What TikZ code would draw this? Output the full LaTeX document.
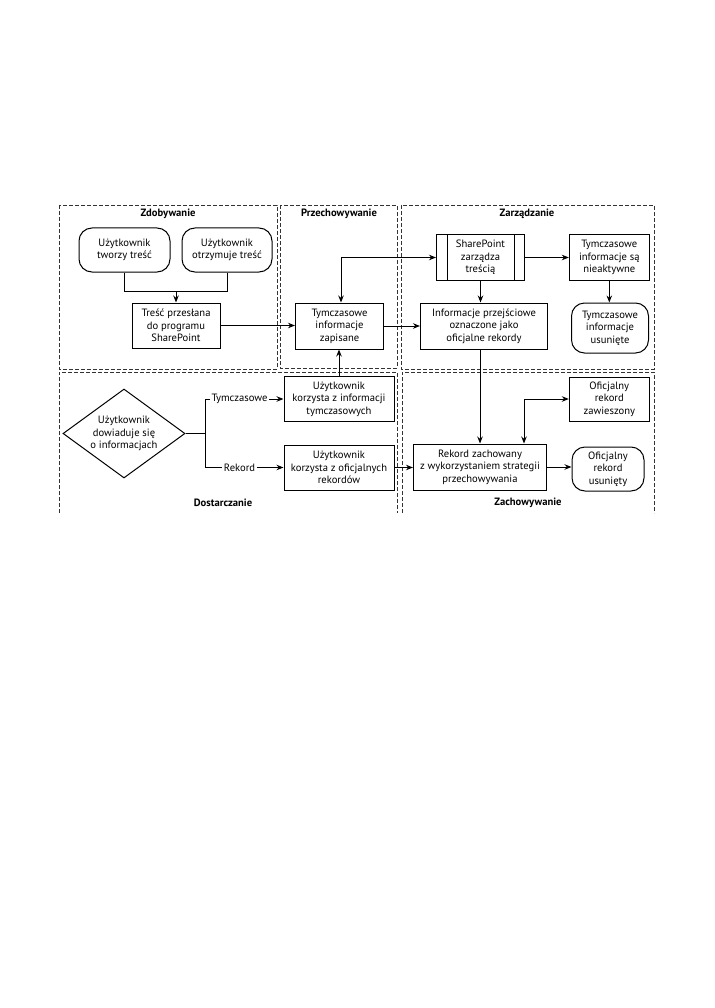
\documentclass[tikz,border=0pt]{standalone}
\usepackage{fontspec}
\setmainfont{PT Sans}
\usetikzlibrary{arrows.meta,shapes.geometric}
\begin{document}
\begin{tikzpicture}[x=1pt,y=-1pt,
  txt/.style={font=\fontsize{10.6}{12.5}\selectfont, align=center},
  box/.style={txt, draw, line width=1pt, inner sep=0pt},
  rbox/.style={box, rounded corners=13pt},
  ttl/.style={font=\fontsize{10.6}{12}\selectfont\bfseries},
  reg/.style={dash pattern=on 4pt off 2pt, line width=0.6pt, black!80},
  conn/.style={line width=1pt},
  arr/.style={conn, -{Stealth[length=7pt,width=5.5pt]}},
  arrb/.style={conn, {Stealth[length=7pt,width=5.5pt]}-{Stealth[length=7pt,width=5.5pt]}},
  lab/.style={txt, fill=white, inner sep=1.5pt}
]
\useasboundingbox (0,0) rectangle (714,1008);

% regions
\draw[reg] (59,205) rectangle (277,369);
\draw[reg] (280,205) rectangle (397,368);
\draw[reg] (401,205) rectangle (654,369);
\draw[reg] (59,513) -- (59,372) -- (397,372) -- (397,513);
\draw[reg] (402,513) -- (402,372) -- (654,372) -- (654,513);

% titles
\node[ttl] (tZd) at (168,214) {Zdobywanie};
\node[ttl] (tPr) at (339,214) {Przechowywanie};
\node[ttl] (tZa) at (527,214) {Zarządzanie};
\node[ttl] (tDo) at (223,503) {Dostarczanie};
\node[ttl] (tZc) at (528,503) {Zachowywanie};

% nodes
\node[rbox, minimum width=91pt, minimum height=44pt] (U1) at (124.5,250) {Użytkownik\\tworzy treść};
\node[rbox, minimum width=90pt, minimum height=44pt] (U2) at (227,250) {Użytkownik\\otrzymuje treść};
\node[box, minimum width=88pt, minimum height=45pt] (T1) at (176,325.5) {Treść przesłana\\do programu\\SharePoint};
\node[box, minimum width=88pt, minimum height=46pt] (TZ) at (339.5,326) {Tymczasowe\\informacje\\zapisane};
\node[box, minimum width=88pt, minimum height=45pt] (SP) at (480.5,257.5) {SharePoint\\zarządza\\treścią};
\draw[line width=1pt] ([xshift=11pt]SP.north west) -- ([xshift=11pt]SP.south west);
\draw[line width=1pt] ([xshift=-11pt]SP.north east) -- ([xshift=-11pt]SP.south east);
\node[box, minimum width=80pt, minimum height=45pt] (TN) at (609.3,257.5) {Tymczasowe\\informacje są\\nieaktywne};
\node[rbox, minimum width=77pt, minimum height=50pt] (TU) at (610,328) {Tymczasowe\\informacje\\usunięte};
\node[box, minimum width=127pt, minimum height=46pt] (IP) at (484,326) {Informacje przejściowe\\oznaczone jako\\oficjalne rekordy};
\node[box, minimum width=110pt, minimum height=45pt] (UT) at (339,399) {Użytkownik\\korzysta z informacji\\tymczasowych};
\node[box, minimum width=110pt, minimum height=45pt] (UR) at (339,467.5) {Użytkownik\\korzysta z oficjalnych\\rekordów};
\node[box, minimum width=133pt, minimum height=46pt] (RZ) at (480,467) {Rekord zachowany\\z wykorzystaniem strategii\\przechowywania};
\node[box, minimum width=80pt, minimum height=44pt] (OZ) at (609.3,399) {Oficjalny\\rekord\\zawieszony};
\node[rbox, minimum width=72pt, minimum height=44pt] (OU) at (608,469) {Oficjalny\\rekord\\usunięty};
\node[txt, draw, line width=1pt, diamond, shape aspect=1.37, inner sep=0pt,
      minimum width=122pt, minimum height=89pt] (DI) at (124,433.5) {Użytkownik\\dowiaduje się\\o informacjach};

% connectors
\coordinate (j1) at (176,291);
\draw[conn] (U1.south) |- (j1);
\draw[conn] (U2.south) |- (j1);
\draw[arr] (j1) -- (T1.north);
\draw[arr] (T1.east) -- (TZ.west |- T1.east);
\draw[arrb] ([xshift=1.5pt]TZ.north) |- (SP.west);
\draw[arr] (TZ.east) -- (IP.west);
\draw[arr] (SP.south) -- (SP.south |- IP.north);
\draw[arr] (SP.east) -- (TN.west);
\draw[arr] (TN.south) -- (TN.south |- TU.north);
\draw[arr] (RZ.north |- IP.south) -- (RZ.north);
\draw[arrb] ([xshift=44pt]RZ.north) |- (OZ.west);
\draw[arr] (RZ.east) -- (OU.west |- RZ.east);
\draw[arr] (UT.north) -- (UT.north |- TZ.south);
\draw[arr] (UR.east) -- (RZ.west |- UR.east);
\coordinate (br) at (205,433.5);
\draw[conn] (DI.east) -- (br);
\draw[arr] (br) |- (UT.west) node[lab, pos=0.72] (lT) {Tymczasowe};
\draw[arr] (br) |- (UR.west) node[lab, pos=0.72] (lR) {Rekord};
\end{tikzpicture}
\end{document}
